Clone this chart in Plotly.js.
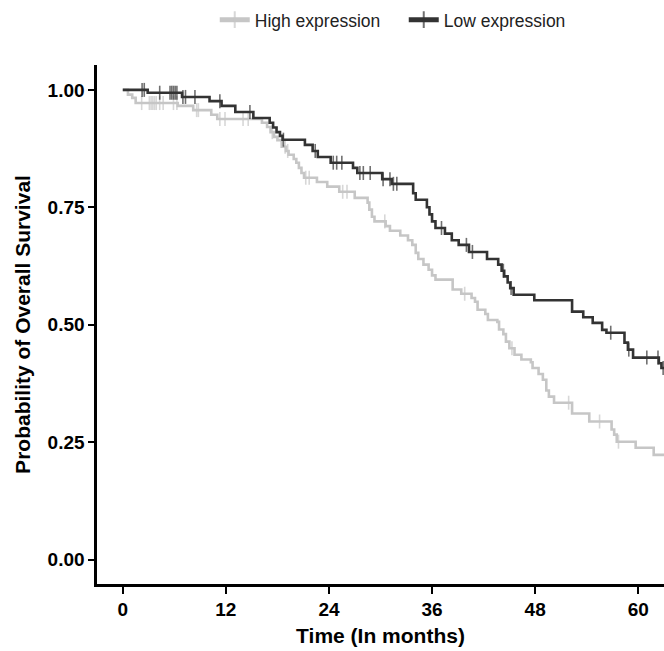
<!DOCTYPE html>
<html>
<head>
<meta charset="utf-8">
<script src="https://cdn.plot.ly/plotly-3.0.1.min.js"></script>
<style>html,body{margin:0;padding:0;background:#fff;}#chart{width:664px;height:651px;}</style>
</head>
<body>
<div id="chart"></div>
<script>
// Series names
const seriesNames = ["High expression", "Low expression"];

// Low expression: event times (months) and survival after each event
const lowT = [0, 2.9, 6.9, 10.1, 11.5, 13.1, 15.2, 17.1, 17.5, 17.9, 18.3, 18.6, 21.2, 22.1, 22.7, 24.2, 26.8, 27.3, 30.2, 31.3, 33.8, 34.1, 35.4, 35.7, 36.0, 36.4, 37.5, 38.3, 39.1, 40.3, 42.4, 43.7, 44.1, 44.4, 44.8, 45.1, 45.5, 47.9, 52.3, 53.6, 54.7, 55.8, 56.3, 58.4, 58.8, 59.4, 62.4, 62.7];
const lowS = [1.0, 0.994, 0.985, 0.976, 0.966, 0.953, 0.94, 0.93, 0.92, 0.91, 0.902, 0.894, 0.883, 0.87, 0.857, 0.845, 0.834, 0.823, 0.81, 0.80, 0.78, 0.766, 0.75, 0.735, 0.72, 0.706, 0.694, 0.68, 0.67, 0.655, 0.64, 0.628, 0.615, 0.603, 0.59, 0.578, 0.564, 0.552, 0.528, 0.516, 0.504, 0.489, 0.483, 0.462, 0.447, 0.43, 0.418, 0.408];
// Low expression: censoring times
const lowCens = [2.25, 2.5, 4.3, 5.5, 5.7, 5.9, 6.1, 6.3, 7.0, 7.3, 8.4, 11.3, 14.8, 18.7, 22.4, 24.5, 24.9, 25.5, 27.6, 28.0, 28.8, 30.3, 31.1, 31.5, 31.9, 37.1, 40.0, 40.7, 44.3, 45.2, 56.8, 58.9, 61.0, 62.3, 62.9];

// High expression: event times and survival after each event
const highT = [0, 0.6, 1.1, 1.5, 6.4, 8.2, 10.3, 11.0, 16.2, 16.8, 17.2, 17.6, 18.0, 18.5, 19.0, 19.3, 19.9, 20.2, 20.5, 20.8, 21.1, 22.6, 23.8, 25.2, 27.0, 28.5, 28.7, 29.0, 29.3, 30.6, 31.1, 32.3, 33.2, 33.7, 34.1, 34.4, 35.0, 35.6, 36.0, 36.4, 38.4, 39.4, 40.6, 41.0, 41.3, 42.2, 42.5, 43.6, 43.8, 44.3, 44.6, 45.0, 45.6, 46.4, 47.5, 47.7, 48.4, 48.9, 49.3, 49.6, 50.2, 52.3, 54.3, 56.9, 57.2, 57.5, 59.7, 61.8];
const highS = [1.0, 0.99, 0.983, 0.972, 0.966, 0.957, 0.947, 0.938, 0.93, 0.921, 0.91, 0.9, 0.893, 0.879, 0.87, 0.862, 0.853, 0.845, 0.834, 0.823, 0.813, 0.804, 0.794, 0.783, 0.77, 0.76, 0.745, 0.73, 0.72, 0.71, 0.70, 0.69, 0.68, 0.67, 0.653, 0.64, 0.628, 0.617, 0.605, 0.596, 0.575, 0.566, 0.557, 0.549, 0.532, 0.523, 0.51, 0.506, 0.49, 0.48, 0.464, 0.45, 0.436, 0.426, 0.42, 0.408, 0.395, 0.383, 0.36, 0.347, 0.334, 0.311, 0.294, 0.277, 0.266, 0.251, 0.238, 0.223];
// High expression: censoring times
const highCens = [2.2, 3.1, 3.3, 3.5, 3.7, 3.9, 4.3, 4.7, 5.9, 6.3, 8.6, 8.8, 11.3, 11.9, 14.0, 14.6, 17.4, 18.9, 19.2, 21.3, 21.7, 25.6, 26.1, 30.5, 39.8, 45.3, 51.9, 55.5, 57.7];

// End of follow-up (months)
const followUpEnd = 63.5;

// Axis ticks
const xTicks = [0, 12, 24, 36, 48, 60];
const yTicks = [0, 0.25, 0.5, 0.75, 1.0];

function buildCurve(times, surv, cens, endT) {
  const pts = [];
  times.forEach((t, i) => pts.push({t: t, s: surv[i], c: false, o: 0}));
  const stepAt = (t) => { let s = surv[0]; for (let i = 0; i < times.length; i++) { if (times[i] <= t) s = surv[i]; } return s; };
  cens.forEach(t => pts.push({t: t, s: stepAt(t), c: true, o: 1}));
  pts.push({t: endT, s: stepAt(endT), c: false, o: 2});
  pts.sort((a, b) => a.t - b.t || a.o - b.o);
  return {x: pts.map(p => p.t), y: pts.map(p => p.s), size: pts.map(p => p.c ? 10 : 0)};
}

const colors = ["#c6c6c6", "#333333"];
const hi = buildCurve(highT, highS, highCens, followUpEnd);
const lo = buildCurve(lowT, lowS, lowCens, followUpEnd);

const traces = [hi, lo].map((c, i) => ({
  type: "scatter",
  mode: "lines+markers",
  name: seriesNames[i],
  x: c.x,
  y: c.y,
  line: {shape: "hv", color: colors[i], width: 2.6},
  marker: {symbol: "line-ns-open", size: c.size, color: colors[i], line: {color: colors[i], width: 1.6}},
  hoverinfo: "skip"
}));

const FONT = "Liberation Sans, Arial, sans-serif";
const tickFont = {family: FONT, size: 19, color: "#000", weight: "bold"};
const titleFont = {family: FONT, size: 21, color: "#000", weight: "bold"};

const layout = {
  width: 664,
  height: 651,
  margin: {l: 97, r: 0, t: 65, b: 67},
  paper_bgcolor: "#fff",
  plot_bgcolor: "#fff",
  showlegend: true,
  legend: {
    orientation: "h",
    x: 0.541, xanchor: "center",
    y: 1.087, yanchor: "middle",
    font: {family: FONT, size: 17.5, color: "#222"},
    itemsizing: "constant",
    entrywidth: 144,
    traceorder: "normal"
  },
  xaxis: {
    range: [-3, 63],
    tickvals: xTicks,
    ticktext: xTicks.map(String),
    showgrid: false, zeroline: false,
    showline: true, linecolor: "#000", linewidth: 2.6,
    ticks: "outside", ticklen: 7, tickwidth: 2, tickcolor: "#000",
    tickfont: tickFont,
    title: {text: "Time (In months)", font: titleFont, standoff: 9}
  },
  yaxis: {
    range: [-0.052, 1.053],
    tickvals: yTicks,
    tickformat: ".2f",
    showgrid: false, zeroline: false,
    showline: true, linecolor: "#000", linewidth: 2.6,
    ticks: "outside", ticklen: 6, tickwidth: 2, tickcolor: "#000",
    tickfont: tickFont,
    title: {text: "Probability of Overall Survival", font: titleFont, standoff: 12}
  }
};

Plotly.newPlot("chart", traces, layout, {displayModeBar: false, staticPlot: true});
</script>
</body>
</html>
